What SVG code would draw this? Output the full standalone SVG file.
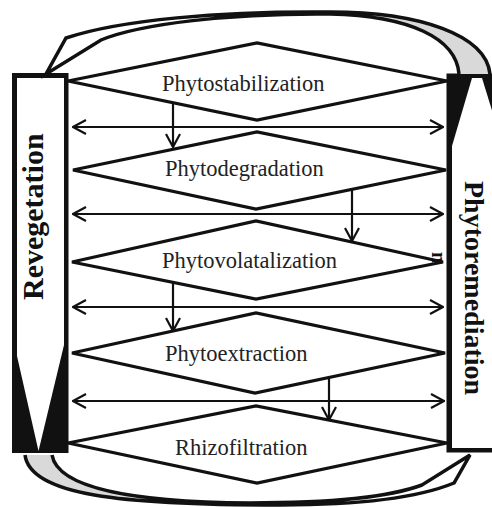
<svg xmlns="http://www.w3.org/2000/svg" width="492" height="507" viewBox="0 0 492 507">
<style>
.box{fill:#111;stroke:#111;stroke-width:5}
.hole{fill:#fff;stroke:none}
.dia{fill:none;stroke:#111;stroke-width:3.2;stroke-linejoin:miter}
.lbl{font-family:"Liberation Serif","Times New Roman",serif;font-size:22.5px;fill:#222}
.big{font-family:"Liberation Serif","Times New Roman",serif;font-size:30px;font-weight:bold;fill:#111}
.arr{fill:none;stroke:#111;stroke-width:2.2}
.crv{fill:none;stroke:#111;stroke-width:3.5;stroke-linejoin:miter}
.shade{fill:#d9d9d9;stroke:none}
</style>
<defs>
<marker id="ah" viewBox="0 0 16 16" refX="15" refY="8" markerWidth="16" markerHeight="16" markerUnits="userSpaceOnUse" orient="auto-start-reverse">
<path d="M2,1 L15,8 L2,15" fill="none" stroke="#111" stroke-width="2.2"/>
</marker>
</defs>
<rect width="492" height="507" fill="#fff"/>

<g id="revegetation">
<rect class="box" x="14.5" y="75.5" width="51.5" height="375"/>
<path class="hole" d="M17,78 L64,78 L64,345 L38.5,451 L17,356 Z"/>
<text class="big" transform="translate(43,300) rotate(-90)">Revegetation</text>
</g>

<g id="phytoremediation">
<rect class="box" x="449" y="76" width="56" height="374"/>
<path class="hole" d="M452,146 L472,78 L482,78 L503,146 L503,448 L452,448 Z"/>
<text class="big" style="font-size:28px" transform="translate(465,181) rotate(90)">Phytoremediation</text>
</g>

<g id="phytostabilization">
<path class="dia" d="M68,81 L257,43 L447,81 L257,120 Z"/>
<text class="lbl" x="162" y="91">Phytostabilization</text>
</g>
<g id="phytodegradation">
<path class="dia" d="M73,170 L257,132 L446,170 L256,209 Z"/>
<text class="lbl" x="165" y="176">Phytodegradation</text>
</g>
<g id="phytovolatalization">
<path class="dia" d="M72,262 L256,221 L443,262 L256,299 Z"/>
<text class="lbl" x="162" y="268">Phytovolatalization</text>
<text class="big" style="font-size:20px" transform="translate(432,252) rotate(90)">n</text>
</g>
<g id="phytoextraction">
<path class="dia" d="M72,353 L256,313 L445,353 L255,393 Z"/>
<text class="lbl" x="165" y="361">Phytoextraction</text>
</g>
<g id="rhizofiltration">
<path class="dia" d="M68,443 L256,406 L447,443 L257,483 Z"/>
<text class="lbl" x="175" y="455">Rhizofiltration</text>
</g>

<g id="connectors">
<line class="arr" x1="73" y1="127" x2="443" y2="127" marker-start="url(#ah)" marker-end="url(#ah)"/>
<line class="arr" x1="73" y1="214" x2="443" y2="214" marker-start="url(#ah)" marker-end="url(#ah)"/>
<line class="arr" x1="73" y1="307" x2="443" y2="307" marker-start="url(#ah)" marker-end="url(#ah)"/>
<line class="arr" x1="73" y1="401" x2="444" y2="401" marker-start="url(#ah)" marker-end="url(#ah)"/>
<line class="arr" x1="173" y1="104" x2="173" y2="147" marker-end="url(#ah)"/>
<line class="arr" x1="352" y1="189" x2="352" y2="241" marker-end="url(#ah)"/>
<line class="arr" x1="173" y1="282" x2="173" y2="331" marker-end="url(#ah)"/>
<line class="arr" x1="329" y1="377" x2="329" y2="420" marker-end="url(#ah)"/>

<g id="top-cycle-arrow">
<path class="shade" d="M490,74 C486,35 420,12 330,12 L330,14 C410,16 456,38 459,74 Z"/>
<path class="crv" d="M459,74 C456,38 410,16 330,14 C230,13 140,24 101,40 L46,74 L66,38 C120,20 220,11 330,12 C420,12 486,35 490,74"/>
</g>
<g id="bottom-cycle-arrow">
<path class="shade" d="M25,455 C30,495 120,505 280,505 L250,503 C140,502 58,490 52,455 Z"/>
<path class="crv" d="M25,455 C30,495 120,505 280,505 C360,505 420,497 454,483 L470,455 L422,485 C395,495 340,503 250,503 C140,502 58,490 52,455"/>
</g>
</g>
</svg>
